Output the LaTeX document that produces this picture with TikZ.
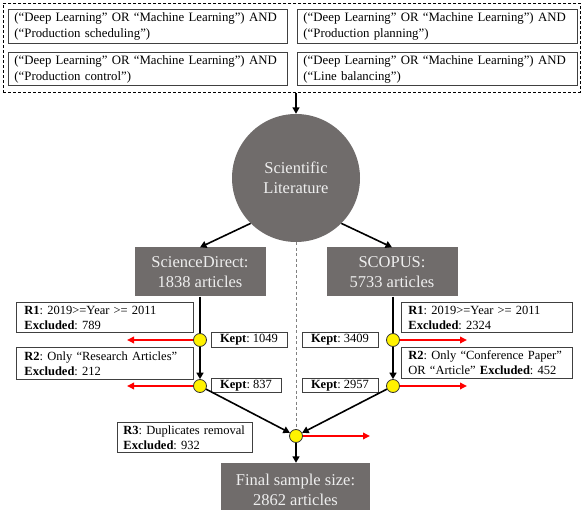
\documentclass[tikz,border=0pt]{standalone}
\usepackage{fontspec}
\setmainfont{Liberation Serif}
\usetikzlibrary{arrows.meta}
\definecolor{boxgray}{RGB}{112,108,107}
\definecolor{lighttext}{RGB}{238,238,238}
\begin{document}
\frenchspacing
\begin{tikzpicture}[x=1pt,y=-1pt,
  qbox/.style={draw=black!75,line width=0.9pt,rectangle,anchor=north west,minimum height=34pt,inner xsep=6pt,inner ysep=0pt,align=left,font=\fontsize{12.8}{16}\selectfont},
  rbox/.style={draw=black!75,line width=0.9pt,rectangle,anchor=north west,inner xsep=8pt,inner ysep=0pt,align=left,font=\fontsize{12.5}{15}\selectfont},
  kbox/.style={draw=black!75,line width=0.9pt,rectangle,minimum height=14.5pt,inner sep=0pt,font=\fontsize{12.5}{15}\selectfont},
  gbox/.style={fill=boxgray,text=lighttext,rectangle,inner sep=0pt,align=center,font=\fontsize{16.5}{20}\selectfont},
  ycirc/.style={circle,fill=yellow,draw=black!80,line width=0.8pt,minimum size=13pt,inner sep=0pt},
  arr/.style={draw=black,line width=1.6pt,-{Triangle[length=6.5pt,width=7pt]}},
  plain/.style={draw=black,line width=1.6pt},
  redarr/.style={draw=red,line width=1.8pt,-{Triangle[length=7pt,width=6.5pt]}},
  dline/.style={draw=black!50,line width=1pt,dash pattern=on 3pt off 2.5pt}
]
\useasboundingbox (0,0) rectangle (582,510);

% query block
\node[draw=black,line width=0.8pt,dash pattern=on 3pt off 2pt,rectangle,anchor=north west,minimum width=577pt,minimum height=89pt,inner sep=0pt] (query) at (3,3) {};
\node[qbox,minimum width=279pt,text width=267pt] (q1) at (8,9) {(“Deep Learning” OR “Machine Learning”) AND\\ (“Production scheduling”)};
\node[qbox,minimum width=280pt,text width=268pt] (q2) at (297,9) {(“Deep Learning” OR “Machine Learning”) AND\\(“Production planning”)};
\node[qbox,minimum width=279pt,text width=267pt,minimum height=33pt] (q3) at (8,52) {(“Deep Learning” OR “Machine Learning”) AND\\ (“Production control”)};
\node[qbox,minimum width=280pt,text width=268pt,minimum height=33pt] (q4) at (297,52) {(“Deep Learning” OR “Machine Learning”) AND\\(“Line balancing”)};

% literature and databases
\node[gbox,circle,minimum size=128pt] (lit) at (296,178) {Scientific\\Literature};
\node[gbox,minimum width=131pt,minimum height=49pt] (sd) at (200,272) {ScienceDirect:\\1838 articles};
\node[gbox,minimum width=131pt,minimum height=49pt] (sc) at (392,272) {SCOPUS:\\5733 articles};
\node[gbox,minimum width=149pt,minimum height=54pt] (final) at (295.5,490) {Final sample size:\\2862 articles};

% filter circles
\node[ycirc] (y1l) at (200,340) {};
\node[ycirc] (y2l) at (200,386) {};
\node[ycirc] (y1r) at (393,340) {};
\node[ycirc] (y2r) at (393,386) {};
\node[ycirc] (join) at (296,436) {};

% rule boxes
\node[rbox,minimum width=177pt,minimum height=30pt,text width=161pt] (r1l) at (16,302) {\textbf{R1}: 2019>=Year >= 2011\\\textbf{Excluded}: 789};
\node[rbox,minimum width=177pt,minimum height=32pt,text width=161pt] (r2l) at (16,347) {\textbf{R2}: Only “Research Articles”\\\textbf{Excluded}: 212};
\node[rbox,minimum width=171pt,minimum height=30pt,text width=157pt,inner xsep=7pt] (r1r) at (401,302) {\textbf{R1}: 2019>=Year >= 2011\\\textbf{Excluded}: 2324};
\node[rbox,minimum width=171pt,minimum height=31pt,text width=157pt,inner xsep=7pt] (r2r) at (401,347) {\textbf{R2}: Only “Conference Paper”\\OR “Article” \textbf{Excluded}: 452};
\node[rbox,minimum width=135pt,minimum height=30pt,text width=123pt,inner xsep=6pt] (r3) at (117,422) {\textbf{R3}: Duplicates removal\\\textbf{Excluded}: 932};

% kept boxes
\node[kbox,minimum width=76pt] (k1l) at (249,340) {\textbf{Kept}: 1049};
\node[kbox,minimum width=70pt] (k2l) at (246,385.5) {\textbf{Kept}: 837};
\node[kbox,minimum width=76pt] (k1r) at (340,340) {\textbf{Kept}: 3409};
\node[kbox,minimum width=76pt] (k2r) at (340,385.5) {\textbf{Kept}: 2957};

% red arrow ends
\coordinate (e1l) at (127,340);
\coordinate (e2l) at (127,386);
\coordinate (e1r) at (467,340);
\coordinate (e2r) at (467,386);
\coordinate (ej) at (370,436);

% connectors
\draw[arr] (lit.north |- query.south) -- (lit.north);
\draw[arr] (lit.225) -- (sd.north);
\draw[arr] (lit.315) -- (sc.north);
\draw[dline] (lit.south) -- (join.north);
\draw[plain] (sd.south) -- (y1l);
\draw[arr] (y1l) -- (y2l);
\draw[plain] (sc.south -| y1r) -- (y1r);
\draw[arr] (y1r) -- (y2r);
\draw[arr] (y2l) -- (join);
\draw[arr] (y2r) -- (join);
\draw[arr] (join) -- (join |- final.north);
\draw[redarr] (y1l) -- (e1l);
\draw[redarr] (y2l) -- (e2l);
\draw[redarr] (y1r) -- (e1r);
\draw[redarr] (y2r) -- (e2r);
\draw[redarr] (join) -- (ej);
\end{tikzpicture}
\end{document}
